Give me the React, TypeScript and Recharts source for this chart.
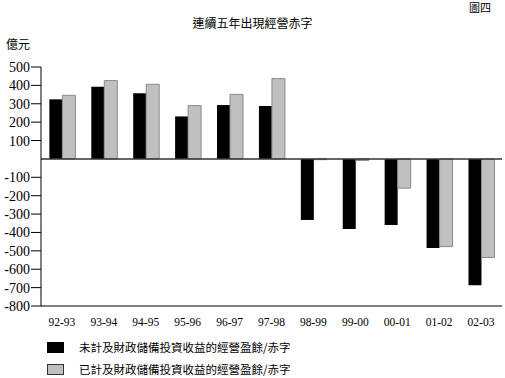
import React from 'react';
import { BarChart, Bar, XAxis, YAxis, ReferenceLine } from 'recharts';

const years = ['92-93', '93-94', '94-95', '95-96', '96-97', '97-98', '98-99', '99-00', '00-01', '01-02', '02-03'];
const excluding = [324, 393, 357, 231, 293, 288, -332, -381, -359, -485, -687];
const including = [346, 426, 406, 290, 351, 437, -4, -9, -159, -477, -536];
const yTicks = [500, 400, 300, 200, 100, -100, -200, -300, -400, -500, -600, -700, -800];

const seriesNames = ['未計及財政儲備投資收益的經營盈餘/赤字', '已計及財政儲備投資收益的經營盈餘/赤字'];

const data = years.map((year, i) => ({ year, excluding: excluding[i], including: including[i] }));

const cjk = '"Noto Sans CJK TC", "Noto Sans CJK SC", sans-serif';
const serif = '"Liberation Serif", "DejaVu Serif", serif';

const App: React.FC = () => {
  return (
    <div style={{ position: 'absolute', left: 0, top: 0, width: 505, height: 378, background: '#fff' }}>
      <div style={{ position: 'absolute', left: 469, top: 1, fontFamily: cjk, fontSize: 11, lineHeight: '13px' }}>圖四</div>
      <div style={{ position: 'absolute', left: 0, width: 505, top: 14, textAlign: 'center', fontFamily: cjk, fontSize: 12 }}>
        連續五年出現經營赤字
      </div>
      <div style={{ position: 'absolute', left: 6, top: 35, fontFamily: cjk, fontSize: 12 }}>億元</div>

      <BarChart
        width={505}
        height={378}
        data={data}
        margin={{ top: 67, right: 3, left: 0, bottom: 52 }}
        barCategoryGap="20%"
        barGap={0}
      >
        <XAxis
          dataKey="year"
          axisLine={{ stroke: '#808080', strokeWidth: 2 }}
          tickLine={false}
          height={20}
          tick={{ fontFamily: serif, fontSize: 11.5, fill: '#000' }}
          tickMargin={6}
          interval={0}
        />
        <XAxis xAxisId="top" orientation="top" dataKey="year" axisLine={{ stroke: '#808080' }} tick={false} tickLine={false} height={0} />
        <YAxis
          domain={[-800, 500]}
          ticks={yTicks}
          width={41}
          axisLine={{ stroke: '#000' }}
          tickLine={{ stroke: '#000' }}
          tickSize={10}
          tickMargin={1}
          interval={0}
          tick={{ fontFamily: serif, fontSize: 14, fill: '#000' }}
        />
        <YAxis yAxisId="right" orientation="right" domain={[-800, 500]} axisLine={{ stroke: '#808080' }} tick={false} tickLine={false} width={0} />
        <ReferenceLine y={0} stroke="#333" strokeWidth={1.5} />
        <Bar dataKey="excluding" name={seriesNames[0]} fill="#000" isAnimationActive={false} />
        <Bar dataKey="including" name={seriesNames[1]} fill="#c0c0c0" stroke="#8a8a8a" strokeWidth={1} isAnimationActive={false} />
      </BarChart>

      {seriesNames.map((name, i) => (
        <div key={name} style={{ position: 'absolute', left: 47, top: 342 + i * 22, display: 'flex', alignItems: 'center' }}>
          <div
            style={{
              width: i === 0 ? 17 : 15,
              height: i === 0 ? 11 : 9,
              background: i === 0 ? '#000' : '#c0c0c0',
              border: i === 0 ? 'none' : '1px solid #333',
            }}
          />
          <span style={{ marginLeft: 15, fontFamily: cjk, fontSize: 11.5, lineHeight: '11px' }}>{name}</span>
        </div>
      ))}
    </div>
  );
};

export default App;
